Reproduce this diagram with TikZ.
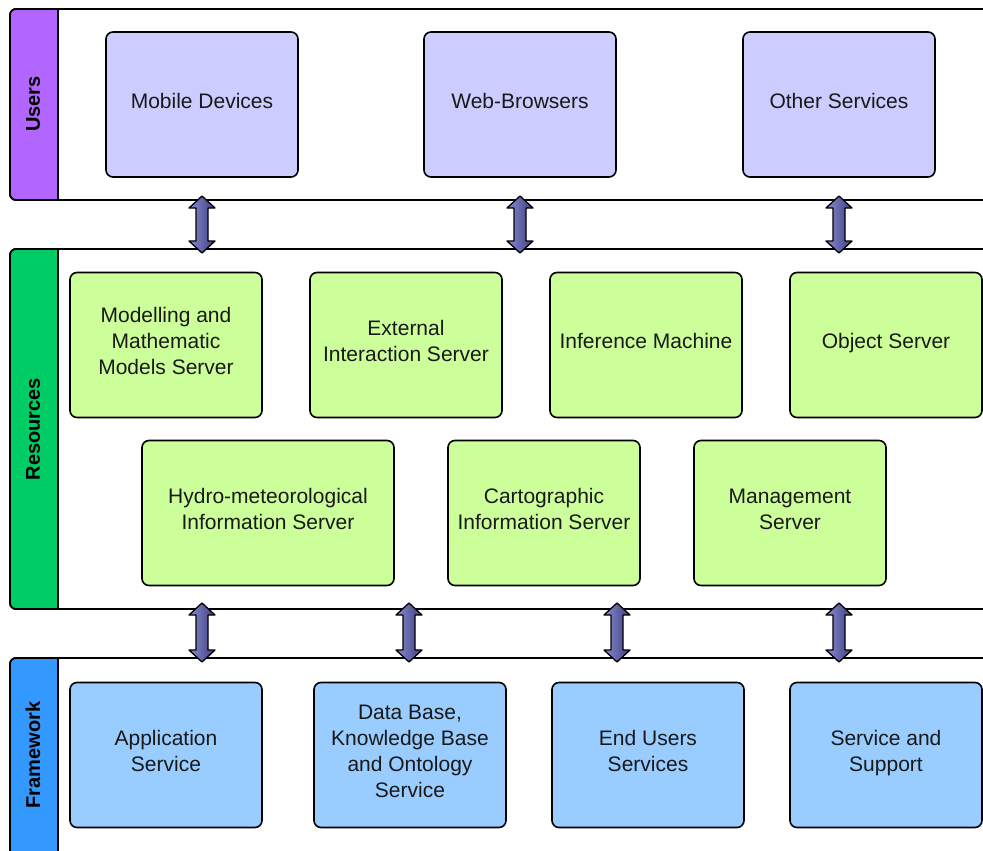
\documentclass[tikz,border=0pt]{standalone}
\usepackage{fontspec}
\setmainfont{Liberation Sans}
\usetikzlibrary{calc}
\definecolor{usercol}{HTML}{B266FF}
\definecolor{rescol}{HTML}{00CC66}
\definecolor{fwcol}{HTML}{3399FF}
\definecolor{userbox}{HTML}{CCCCFF}
\definecolor{resbox}{HTML}{CCFF99}
\definecolor{fwbox}{HTML}{99CCFF}
\definecolor{arrL}{HTML}{8A8AD0}
\definecolor{arrR}{HTML}{3E3E80}
\tikzset{
  lane/.style={draw=black, line width=1.8pt, fill=white},
  strip/.style={draw=black, line width=1.8pt},
  lanelabel/.style={rotate=90, font=\fontsize{20}{22}\selectfont\bfseries, text=black},
  box/.style={draw=black, line width=1.6pt, rounded corners=7pt, minimum width=192pt, minimum height=145pt, align=center, font=\fontsize{21}{26}\selectfont, text=black!90, inner sep=2pt, text depth=8pt},
  ubox/.style={box, fill=userbox},
  rbox/.style={box, fill=resbox},
  fbox/.style={box, fill=fwbox},
  fatarrow/.style={draw=black, line width=1.3pt, line join=round, left color=arrL, right color=arrR}
}
\newcommand{\fatarrow}[2]{%
  \path[fatarrow] (#1) -- ($(#1)+(13,12)$) -- ($(#1)+(6,12)$) -- ($(#2)+(6,-12)$) -- ($(#2)+(13,-12)$) -- (#2) -- ($(#2)+(-13,-12)$) -- ($(#2)+(-6,-12)$) -- ($(#1)+(-6,12)$) -- ($(#1)+(-13,12)$) -- cycle;}
\begin{document}
\begin{tikzpicture}[x=1pt, y=-1pt]
\useasboundingbox (0,0) rectangle (983,851);
\clip (0,0) rectangle (983,851);
% lanes
\draw[lane, rounded corners=6pt] (10,9) rectangle (1010,200);
\draw[lane, rounded corners=6pt] (10,249) rectangle (1010,609);
\draw[lane, rounded corners=6pt] (10,658) rectangle (1010,900);
\path[strip, fill=usercol] (58,9) [rounded corners=6pt] -- (10,9) -- (10,200) [sharp corners] -- (58,200) -- cycle;
\path[strip, fill=rescol] (58,249) [rounded corners=6pt] -- (10,249) -- (10,609) [sharp corners] -- (58,609) -- cycle;
\path[strip, fill=fwcol] (58,658) [rounded corners=6pt] -- (10,658) -- (10,900) [sharp corners] -- (58,900) -- cycle;
\node[lanelabel] (lu) at (33,104) {Users};
\node[lanelabel] (lr) at (33,429) {Resources};
\node[lanelabel] (lf) at (33,755) {Framework};
% users
\node[ubox] (mob) at (202,104.5) {Mobile Devices};
\node[ubox] (web) at (520,104.5) {Web-Browsers};
\node[ubox] (oth) at (839,104.5) {Other Services};
% resources
\node[rbox] (mod) at (166,345) {Modelling and\\Mathematic\\Models Server};
\node[rbox] (ext) at (406,345) {External\\Interaction Server};
\node[rbox] (inf) at (646,345) {Inference Machine};
\node[rbox] (obj) at (886,345) {Object Server};
\node[rbox, minimum width=252pt] (hyd) at (268,513) {Hydro-meteorological\\Information Server};
\node[rbox] (car) at (544,513) {Cartographic\\Information Server};
\node[rbox] (man) at (790,513) {Management\\Server};
% framework
\node[fbox] (app) at (166,755) {Application\\Service};
\node[fbox] (dbk) at (410,755) {Data Base,\\Knowledge Base\\and Ontology\\Service};
\node[fbox] (end) at (648,755) {End Users\\Services};
\node[fbox] (ser) at (886,755) {Service and\\Support};
% arrow end points
\coordinate (a1t) at (202,196); \coordinate (a1b) at (202,253);
\coordinate (a2t) at (520,196); \coordinate (a2b) at (520,253);
\coordinate (a3t) at (839,196); \coordinate (a3b) at (839,253);
\coordinate (b1t) at (202,603); \coordinate (b1b) at (202,662);
\coordinate (b2t) at (409,603); \coordinate (b2b) at (409,662);
\coordinate (b3t) at (617,603); \coordinate (b3b) at (617,662);
\coordinate (b4t) at (839,603); \coordinate (b4b) at (839,662);
\fatarrow{a1t}{a1b}
\fatarrow{a2t}{a2b}
\fatarrow{a3t}{a3b}
\fatarrow{b1t}{b1b}
\fatarrow{b2t}{b2b}
\fatarrow{b3t}{b3b}
\fatarrow{b4t}{b4b}
\end{tikzpicture}
\end{document}
